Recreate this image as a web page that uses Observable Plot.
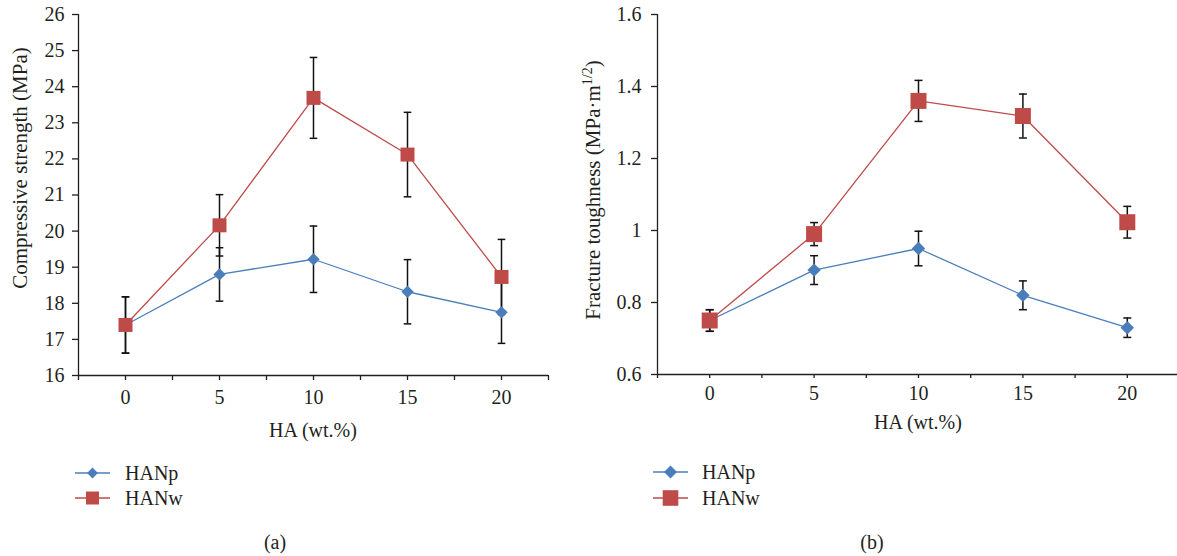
<!DOCTYPE html>
<html><head><meta charset="utf-8">
<script src="https://cdn.jsdelivr.net/npm/d3@7"></script>
<script src="https://cdn.jsdelivr.net/npm/@observablehq/plot@0.6"></script>
<style>
html,body{margin:0;padding:0;background:#fff;overflow:hidden;width:1177px;height:556px;}
#root{position:relative;width:1177px;height:556px;font-family:"Liberation Serif",serif;color:#231f20;overflow:hidden;}
.panel{position:absolute;top:0;}
.panel text{font-family:"Liberation Serif",serif;}
.row{position:absolute;display:flex;align-items:center;white-space:nowrap;font-size:20px;height:24px;}
.row svg{display:block;}
.cap{position:absolute;font-size:20px;line-height:20px;width:60px;text-align:center;}
</style></head><body><div id="root"></div>
<script>
// ---- data ----
const haLevels = [0, 5, 10, 15, 20];
const seriesNames = ["HANp", "HANw"];
const seriesColors = ["#4a7ebb", "#be4b48"];

const csTicks = [16, 17, 18, 19, 20, 21, 22, 23, 24, 25, 26];
const csHANp = [17.40, 18.80, 19.22, 18.32, 17.75];
const csHANpErr = [0.78, 0.74, 0.92, 0.89, 0.86];
const csHANw = [17.40, 20.16, 23.69, 22.12, 18.73];
const csHANwErr = [0.78, 0.85, 1.12, 1.17, 1.04];

const ftTicks = [0.6, 0.8, 1, 1.2, 1.4, 1.6];
const ftHANp = [0.75, 0.89, 0.95, 0.82, 0.73];
const ftHANpErr = [0.03, 0.04, 0.048, 0.04, 0.027];
const ftHANw = [0.75, 0.99, 1.36, 1.318, 1.023];
const ftHANwErr = [0.03, 0.032, 0.057, 0.061, 0.044];

// ---- helpers ----
const FONT = "'Liberation Serif', serif";
const rOf = size => Math.sqrt(size / Math.PI);
const squareSym = {draw(ctx, size) { const r = rOf(size); ctx.moveTo(-r, -r); ctx.lineTo(r, -r); ctx.lineTo(r, r); ctx.lineTo(-r, r); ctx.closePath(); }};
const diamondSym = {draw(ctx, size) { const r = rOf(size); ctx.moveTo(0, -r); ctx.lineTo(r, 0); ctx.lineTo(0, r); ctx.lineTo(-r, 0); ctx.closePath(); }};
const capSym = {draw(ctx, size) { const r = rOf(size); ctx.moveTo(-r, 0); ctx.lineTo(r, 0); }};

function rowsOf(pVals, pErr, wVals, wErr) {
  const out = [];
  haLevels.forEach((x, i) => out.push({x, y: pVals[i], err: pErr[i], series: "HANp"}));
  haLevels.forEach((x, i) => out.push({x, y: wVals[i], err: wErr[i], series: "HANw"}));
  return out;
}
const step = haLevels[1] - haLevels[0];
const xDomain = [haLevels[0] - step / 2, haLevels[haLevels.length - 1] + step / 2];
const xTickPos = d3.range(xDomain[0], xDomain[1] + 0.01, step / 2);

function panel(o) {
  const rows = o.rows;
  return Plot.plot({
    width: o.width, height: o.height,
    marginLeft: o.marginLeft, marginRight: o.marginRight, marginTop: o.marginTop, marginBottom: o.marginBottom,
    style: {fontFamily: FONT, fontSize: "20px", color: "#231f20", background: "transparent", overflow: "visible"},
    x: {domain: xDomain},
    y: {domain: [o.yTicks[0], o.yTicks[o.yTicks.length - 1]]},
    color: {domain: seriesNames, range: seriesColors},
    marks: [
      Plot.axisX({ticks: xTickPos, tickFormat: d => haLevels.includes(d) ? String(d) : "", tickSize: o.xTickSize, tickPadding: o.xTickPadding, label: null, strokeWidth: 1.3, fontFamily: FONT, fontSize: 20, fontVariant: "normal"}),
      Plot.axisY({ticks: o.yTicks, tickFormat: d => String(d), tickSize: 6, tickPadding: o.yTickPadding, label: null, strokeWidth: 1.3, fontFamily: FONT, fontSize: 20, fontVariant: "normal"}),
      Plot.ruleX([xDomain[0]], {stroke: "#231f20", strokeWidth: 1.3}),
      Plot.ruleY([o.yTicks[0]], {stroke: "#231f20", strokeWidth: 1.3}),
      Plot.ruleX(rows, {x: "x", y1: d => d.y - d.err, y2: d => d.y + d.err, stroke: "#111", strokeWidth: 1.5}),
      Plot.dot(rows, {x: "x", y: d => d.y + d.err, symbol: capSym, r: o.capR, stroke: "#111", strokeWidth: 1.5, fill: "none"}),
      Plot.dot(rows, {x: "x", y: d => d.y - d.err, symbol: capSym, r: o.capR, stroke: "#111", strokeWidth: 1.5, fill: "none"}),
      Plot.line(rows, {x: "x", y: "y", z: "series", stroke: "series", strokeWidth: 1.3}),
      Plot.dot(rows.filter(d => d.series === "HANp"), {x: "x", y: "y", fill: "series", symbol: diamondSym, r: o.diaR, stroke: "none"}),
      Plot.dot(rows.filter(d => d.series === "HANw"), {x: "x", y: "y", fill: "series", symbol: squareSym, r: o.sqR, stroke: "none"})
    ]
  });
}

const root = document.getElementById("root");

// Left panel
const left = panel({
  rows: rowsOf(csHANp, csHANpErr, csHANw, csHANwErr), yTicks: csTicks,
  width: 560, height: 420, marginLeft: 78, marginRight: 12, marginTop: 14, marginBottom: 45,
  xTickSize: 5, xTickPadding: 9, yTickPadding: 8, capR: 3.8, diaR: 6.2, sqR: 7
});
left.classList.add("panel"); left.style.left = "0px";
root.appendChild(left);
const sL = d3.select(left);
sL.append("text").attr("transform", "translate(27,168) rotate(-90)").attr("text-anchor", "middle")
  .attr("font-size", 21).attr("fill", "currentColor").text("Compressive strength (MPa)");
sL.append("text").attr("x", 313).attr("y", 437).attr("text-anchor", "middle")
  .attr("font-size", 20).attr("fill", "currentColor").text("HA (wt.%)");

// Right panel
const right = panel({
  rows: rowsOf(ftHANp, ftHANpErr, ftHANw, ftHANwErr), yTicks: ftTicks,
  width: 620, height: 420, marginLeft: 82, marginRight: 16, marginTop: 14, marginBottom: 46,
  xTickSize: 4, xTickPadding: 7, yTickPadding: 10, capR: 4, diaR: 6.7, sqR: 8
});
right.classList.add("panel"); right.style.left = "575px";
root.appendChild(right);
const sR = d3.select(right);
const t = sR.append("text").attr("transform", "translate(25,190) rotate(-90)").attr("text-anchor", "middle")
  .attr("font-size", 21).attr("fill", "currentColor");
t.append("tspan").text("Fracture toughness (MPa·m");
t.append("tspan").attr("dy", -8).attr("font-size", 14).text("1/2");
t.append("tspan").attr("dy", 8).text(")");
sR.append("text").attr("x", 343).attr("y", 429).attr("text-anchor", "middle")
  .attr("font-size", 20).attr("fill", "currentColor").text("HA (wt.%)");

// Legends
function legend(x0, ys, lineW, gap, diaR, sqR) {
  seriesNames.forEach((name, i) => {
    const row = document.createElement("div");
    row.className = "row";
    row.style.left = x0 + "px";
    row.style.top = (ys[i] - 12) + "px";
    const svg = d3.create("svg").attr("width", lineW).attr("height", 24);
    svg.append("line").attr("x1", 0).attr("x2", lineW).attr("y1", 12).attr("y2", 12)
      .attr("stroke", seriesColors[i]).attr("stroke-width", 2).attr("stroke-opacity", 0.75);
    const cx = lineW / 2;
    if (i === 0) {
      const r = diaR;
      svg.append("path").attr("d", `M${cx},${12 - r}L${cx + r},12L${cx},${12 + r}L${cx - r},12Z`).attr("fill", seriesColors[i]);
    } else {
      const r = sqR;
      svg.append("rect").attr("x", cx - r).attr("y", 12 - r).attr("width", 2 * r).attr("height", 2 * r).attr("fill", seriesColors[i]);
    }
    row.appendChild(svg.node());
    const span = document.createElement("span");
    span.textContent = name;
    span.style.marginLeft = gap + "px";
    row.appendChild(span);
    root.appendChild(row);
  });
}
legend(75, [473, 498], 35, 15, 5.4, 6.5);
legend(653, [472, 498], 35, 14, 6.5, 7.8);

// Captions
[["(a)", 275], ["(b)", 872]].forEach(([txt, cx]) => {
  const d = document.createElement("div");
  d.className = "cap";
  d.style.left = (cx - 30) + "px";
  d.style.top = "532px";
  d.textContent = txt;
  root.appendChild(d);
});
</script></body></html>
